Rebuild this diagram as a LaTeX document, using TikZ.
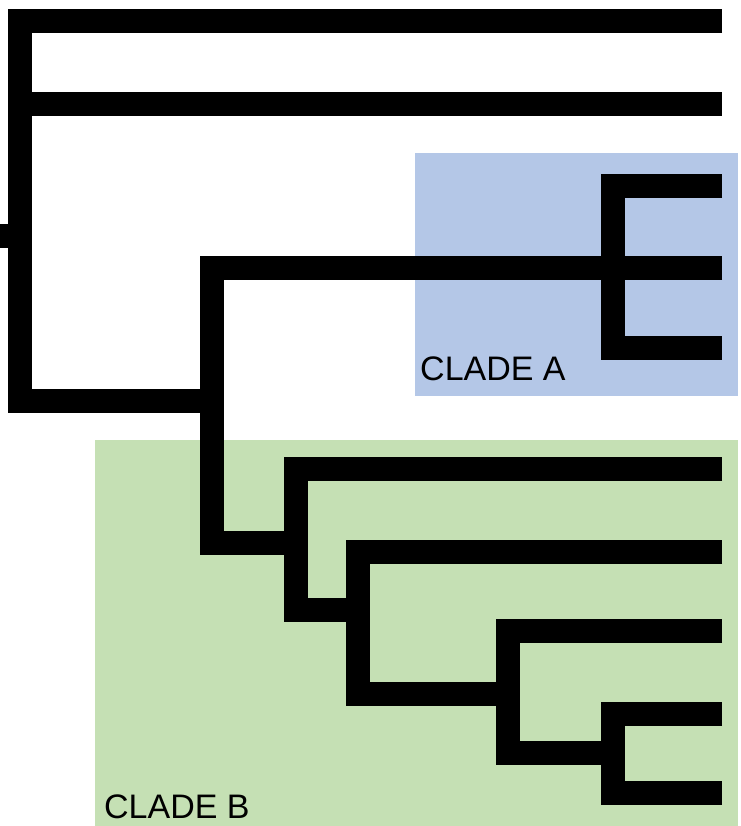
\documentclass[tikz,border=0pt]{standalone}
\usepackage{fontspec}
\setmainfont{Liberation Sans}
\definecolor{cladeblue}{HTML}{B4C7E7}
\definecolor{cladegreen}{HTML}{C5E0B4}
\begin{document}
\begin{tikzpicture}[x=1pt,y=-1pt,
  branch/.style={line width=24pt, line join=miter, line cap=butt, black},
  cladelabel/.style={anchor=base west, inner sep=0pt, font=\fontsize{34}{34}\selectfont}]
\useasboundingbox (0,0) rectangle (740,826);
% clade boxes
\fill[cladeblue] (415,153) rectangle (738,396);
\fill[cladegreen] (95,440) rectangle (738,826);
% named points
\coordinate (root) at (0,236);
\coordinate (n0) at (20,236);
\coordinate (n1) at (212,401);
\coordinate (nA) at (613,268);
\coordinate (nB) at (296,543);
\coordinate (nB2) at (358,610);
\coordinate (nB3) at (508,694);
\coordinate (nB4) at (613,753);
% tree
\draw[branch] (722,21) -- (20,21) -- (20,401) -- (n1);
\draw[branch] (20,104) -- (722,104);
\draw[branch] (root) -- (n0);
\draw[branch] (722,268) -- (212,268) -- (212,543) -- (nB);
\draw[branch] (722,186) -- (613,186) -- (613,348) -- (722,348);
\draw[branch] (722,469) -- (296,469) -- (296,610) -- (nB2);
\draw[branch] (722,552) -- (358,552) -- (358,694) -- (nB3);
\draw[branch] (722,631) -- (508,631) -- (508,753) -- (nB4);
\draw[branch] (722,714) -- (613,714) -- (613,793) -- (722,793);
% labels
\node[cladelabel] (labA) at (420,380) {CLADE A};
\node[cladelabel] (labB) at (104,818) {CLADE B};
\end{tikzpicture}
\end{document}
